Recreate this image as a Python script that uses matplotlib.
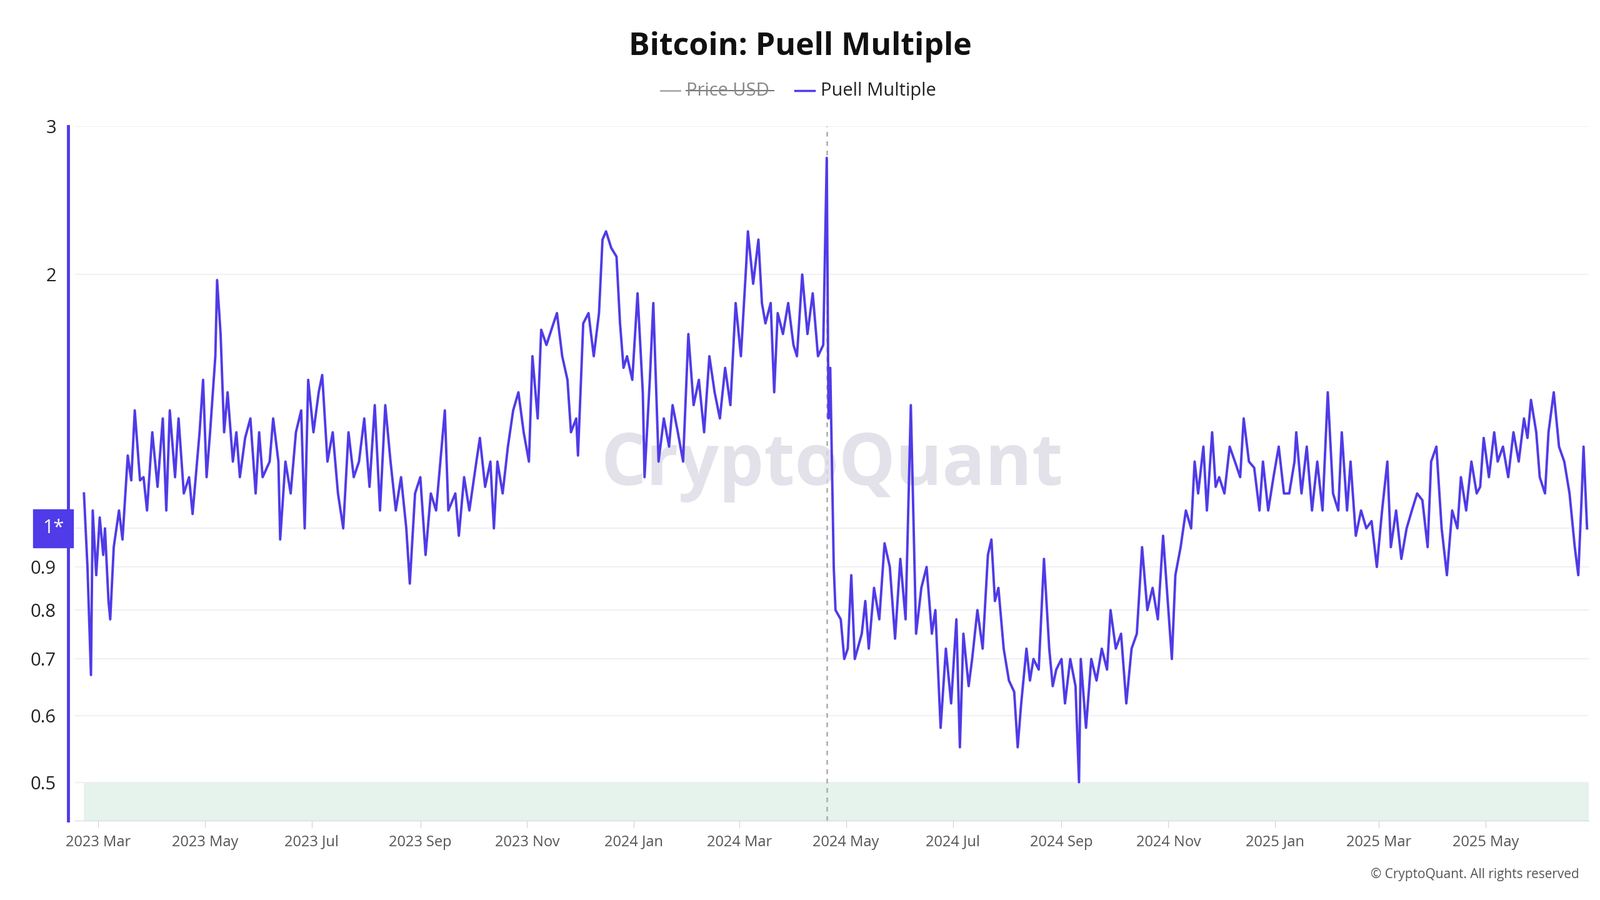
import numpy as np
import pandas as pd
import matplotlib
matplotlib.use("Agg")
import matplotlib.pyplot as plt
import matplotlib.dates as mdates
from matplotlib.lines import Line2D

plt.rcParams["font.family"] = "Open Sans"

start_date = "2023-02-21"
halving_date = "2024-04-20"
day_offsets = [0,2,4,5,7,9,11,12,14,15,17,20,22,25,27,29,32,34,36,39,42,45,47,49,52,54,57,60,62,66,68,70,72,75,76,78,80,82,85,87,89,92,95,98,100,102,106,108,111,112,115,118,121,124,126,128,131,134,136,139,142,145,148,151,154,157,160,163,166,169,172,175,178,181,184,186,189,192,195,198,201,206,208,212,214,217,220,224,226,229,232,234,236,239,242,245,248,251,254,256,259,261,264,268,270,273,276,278,281,282,285,288,291,294,296,298,301,304,306,308,310,313,316,319,320,323,325,328,331,334,336,339,342,345,348,351,354,357,360,363,366,369,372,375,378,379,382,385,387,389,392,394,396,399,402,405,407,410,413,416,419,422,424,425,426,428,429,432,434,436,438,440,444,446,448,451,454,457,460,463,466,469,472,475,478,481,484,486,489,492,495,498,500,502,505,507,510,513,516,518,520,522,525,528,531,533,535,538,540,542,545,548,551,553,555,558,560,563,566,568,569,572,575,578,581,584,586,589,592,595,598,601,604,607,610,613,616,619,621,623,626,629,632,634,636,639,641,644,646,648,651,654,657,660,662,665,668,671,673,676,679,682,685,688,691,692,695,698,701,704,707,710,713,716,718,721,723,726,729,732,735,738,741,744,746,749,752,755,758,761,764,767,769,772,775,778,781,784,786,789,792,795,797,799,802,805,807,810,813,816,819,822,824,826,829,831,834,836,839,842,845,848,851,853,855,856,858]
puell = [1.1,0.9,0.67,1.05,0.88,1.03,0.93,1.0,0.82,0.78,0.95,1.05,0.97,1.22,1.14,1.38,1.14,1.15,1.05,1.3,1.12,1.35,1.05,1.38,1.15,1.35,1.1,1.15,1.04,1.3,1.5,1.15,1.3,1.6,1.97,1.7,1.3,1.45,1.2,1.3,1.15,1.28,1.35,1.1,1.3,1.15,1.2,1.35,1.2,0.97,1.2,1.1,1.3,1.38,1.0,1.5,1.3,1.45,1.52,1.2,1.3,1.1,1.0,1.3,1.15,1.2,1.35,1.12,1.4,1.05,1.4,1.2,1.05,1.15,1.0,0.86,1.1,1.15,0.93,1.1,1.05,1.38,1.05,1.1,0.98,1.15,1.05,1.2,1.28,1.12,1.2,1.0,1.2,1.1,1.25,1.38,1.45,1.3,1.2,1.6,1.35,1.72,1.65,1.75,1.8,1.6,1.5,1.3,1.35,1.22,1.75,1.8,1.6,1.8,2.2,2.25,2.15,2.1,1.75,1.55,1.6,1.5,1.9,1.45,1.15,1.5,1.85,1.2,1.35,1.25,1.4,1.3,1.2,1.7,1.4,1.5,1.3,1.6,1.45,1.35,1.55,1.4,1.85,1.6,2.05,2.25,1.95,2.2,1.85,1.75,1.85,1.45,1.8,1.7,1.85,1.65,1.6,2.0,1.7,1.9,1.6,1.65,2.75,1.35,1.55,0.9,0.8,0.78,0.7,0.72,0.88,0.7,0.75,0.82,0.72,0.85,0.78,0.96,0.9,0.74,0.92,0.78,1.4,0.75,0.85,0.9,0.75,0.8,0.58,0.72,0.62,0.78,0.55,0.75,0.65,0.7,0.8,0.72,0.93,0.97,0.82,0.85,0.72,0.66,0.64,0.55,0.62,0.72,0.66,0.7,0.68,0.92,0.72,0.65,0.68,0.7,0.62,0.7,0.65,0.5,0.7,0.58,0.7,0.66,0.72,0.68,0.8,0.72,0.75,0.62,0.72,0.75,0.95,0.8,0.85,0.78,0.98,0.8,0.7,0.88,0.95,1.05,1.0,1.2,1.1,1.25,1.05,1.3,1.12,1.15,1.1,1.25,1.2,1.15,1.35,1.2,1.18,1.05,1.2,1.05,1.15,1.25,1.1,1.1,1.2,1.3,1.1,1.25,1.05,1.2,1.05,1.45,1.1,1.05,1.3,1.05,1.2,0.98,1.05,1.0,1.02,0.9,1.05,1.2,0.95,1.05,0.92,1.0,1.05,1.1,1.08,0.95,1.2,1.25,1.0,0.88,1.05,1.0,1.15,1.05,1.2,1.1,1.12,1.28,1.15,1.3,1.2,1.25,1.15,1.3,1.2,1.35,1.28,1.42,1.3,1.15,1.1,1.3,1.45,1.25,1.2,1.1,0.95,0.88,1.1,1.25,1.0]
y_ticks = [0.5, 0.6, 0.7, 0.8, 0.9, 2, 3]
y_tick_labels = ["0.5", "0.6", "0.7", "0.8", "0.9", "2", "3"]
band_low, band_high = 0.45, 0.5

PURPLE = "#4f3be8"
dates = pd.Timestamp(start_date) + pd.to_timedelta(day_offsets, unit="D")

fig = plt.figure(figsize=(25.6, 14.4), dpi=100)
ax = fig.add_axes([0.047, 0.088, 0.946, 0.772])
ax.set_yscale("log")
ax.set_ylim(band_low, 3.0)
x0 = dates[0] - pd.Timedelta(days=5)
x1 = dates[-1] + pd.Timedelta(days=1)
ax.set_xlim(x0, x1)

ax.fill_between([dates[0], x1], band_low, band_high, color="#e5f3ec", zorder=0, lw=0)
for t in y_ticks + [1]:
    ax.axhline(t, color="#eeeef2", lw=1.2, zorder=0)
ax.axvline(pd.Timestamp(halving_date), color="#aaaaaa", lw=1.8, ls=(0, (3, 3)), zorder=1)
ax.plot(dates, puell, color=PURPLE, lw=2.8, zorder=3)

ax.text(0.5, 0.51, "CryptoQuant", transform=ax.transAxes, ha="center", va="center",
        fontsize=82, color="#dcdae4", alpha=0.8, fontweight="bold", zorder=2)

for s in ["top", "right"]:
    ax.spines[s].set_visible(False)
ax.spines["bottom"].set_color("#d8d8d8")
ax.spines["left"].set_color(PURPLE)
ax.spines["left"].set_linewidth(3.5)
ax.spines["left"].set_position(("outward", 8))

ax.set_yticks(y_ticks)
ax.set_yticklabels(y_tick_labels)
ax.yaxis.set_minor_locator(matplotlib.ticker.NullLocator())
ax.tick_params(axis="y", length=0, labelsize=21, labelcolor="#222222", pad=14)
ax.text(-0.0075, 1.0, "1*", transform=ax.get_yaxis_transform(), ha="right", va="center",
        fontsize=22, color="white",
        bbox=dict(boxstyle="square,pad=0.5", fc=PURPLE, ec=PURPLE))

ax.xaxis.set_major_locator(mdates.MonthLocator(bymonth=[1, 3, 5, 7, 9, 11]))
ax.xaxis.set_major_formatter(mdates.DateFormatter("%Y %b"))
ax.tick_params(axis="x", length=8, color="#d0d0d0", labelsize=17, labelcolor="#555555", pad=8)

fig.text(0.5, 0.948, "Bitcoin: Puell Multiple", ha="center", va="center",
         fontsize=36, fontweight="bold", color="#111111")
# legend
fig.add_artist(Line2D([0.413, 0.425], [0.899, 0.899], color="#aaaaaa", lw=2, transform=fig.transFigure))
fig.text(0.429, 0.899, "Price USD", ha="left", va="center", fontsize=21, color="#888888")
fig.add_artist(Line2D([0.429, 0.4835], [0.899, 0.899], color="#777777", lw=1.5, transform=fig.transFigure))
fig.add_artist(Line2D([0.497, 0.509], [0.899, 0.899], color=PURPLE, lw=2.5, transform=fig.transFigure))
fig.text(0.513, 0.899, "Puell Multiple", ha="left", va="center", fontsize=21, color="#222222")

fig.text(0.987, 0.028, "© CryptoQuant. All rights reserved", ha="right", va="center",
         fontsize=15, color="#555555")

fig.savefig("out.png", dpi=100)
